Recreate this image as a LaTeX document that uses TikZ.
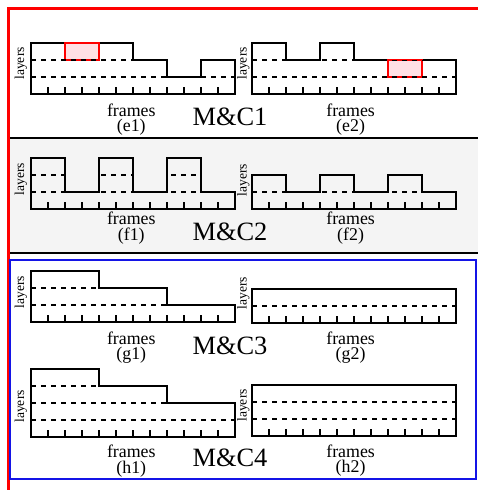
\documentclass[tikz,border=0pt]{standalone}
\usepackage{fontspec}
\setmainfont{Liberation Serif}
\usepackage{tikz}
\definecolor{mcRed}{HTML}{FF0000}
\definecolor{mcRedbg}{HTML}{FFE0E4}
\definecolor{mcBlue}{HTML}{1414E6}
\definecolor{bandbg}{HTML}{F4F4F4}

\begin{document}
\begin{tikzpicture}[x=0.7pt, y=-0.7pt,
  outline/.style={line width=1.7pt, line join=miter},
  layer/.style={line width=1.7pt, dash pattern=on 3.6pt off 3.4pt},
  tick/.style={line width=1.4pt},
  hotbox/.style={fill=mcRedbg, draw=mcRed, line width=1.7pt},
  laylab/.style={rotate=90, font=\fontsize{9.5}{10}\selectfont},
  frlab/.style={align=center, inner sep=0pt, font=\fontsize{12.5}{10.6}\selectfont},
  mclab/.style={font=\fontsize{18.5}{20}\selectfont}]
  \useasboundingbox (0,0) rectangle (478,490);

  % section frames
  \fill[bandbg] (8,138) rectangle (478,253);
  \draw[line width=1.8pt] (8,138) -- (478,138) (8,253) -- (478,253);
  \draw[mcRed, line width=2.1pt] (478,8) -- (8,8) -- (8,490);
  \draw[mcBlue, line width=1.5pt] (10,260) rectangle (476,479);

  % (e1)
  \begin{scope}[shift={(31,94)}, x=11.9pt, y=11.9pt]
    \def\outl{(0,0) |- (6,3) |- (8,2) |- (10,1) |- (12,2) -- (12,0) -- cycle}
    \draw[outline] \outl;
    \draw[hotbox] (2,2) rectangle (4,3);
    \begin{scope}
      \clip \outl;
      \foreach \l in {1,2} \draw[layer] (0,\l) -- (12,\l);
    \end{scope}
    \foreach \i in {1,...,11} \draw[tick] (\i,0) -- (\i,0.4);
    \node[laylab] (lay-e1) at (-0.6,1.8) {layers};
    \node[frlab] (frm-e1) at (5.9,-1.5) {frames\\(e1)};
  \end{scope}

  % (e2)
  \begin{scope}[shift={(252,94)}, x=11.9pt, y=11.9pt]
    \def\outl{(0,0) |- (2,3) |- (4,2) |- (6,3) |- (12,2) -- (12,0) -- cycle}
    \draw[outline] \outl;
    \draw[hotbox] (8,1) rectangle (10,2);
    \begin{scope}
      \clip \outl;
      \foreach \l in {1,2} \draw[layer] (0,\l) -- (12,\l);
    \end{scope}
    \foreach \i in {1,...,11} \draw[tick] (\i,0) -- (\i,0.4);
    \node[laylab] (lay-e2) at (-0.5,1.8) {layers};
    \node[frlab] (frm-e2) at (5.8,-1.5) {frames\\(e2)};
  \end{scope}

  % (f1)
  \begin{scope}[shift={(31,209)}, x=11.9pt, y=11.9pt]
    \def\outl{(0,0) |- (2,3) |- (4,1) |- (6,3) |- (8,1) |- (10,3) |- (12,1) -- (12,0) -- cycle}
    \draw[outline] \outl;
    \begin{scope}
      \clip \outl;
      \foreach \l in {1,2} \draw[layer] (0,\l) -- (12,\l);
    \end{scope}
    \foreach \i in {1,...,11} \draw[tick] (\i,0) -- (\i,0.4);
    \node[laylab] (lay-f1) at (-0.6,1.75) {layers};
    \node[frlab] (frm-f1) at (5.9,-1.12) {frames\\(f1)};
  \end{scope}

  % (f2)
  \begin{scope}[shift={(252,209)}, x=11.9pt, y=11.9pt]
    \def\outl{(0,0) |- (2,2) |- (4,1) |- (6,2) |- (8,1) |- (10,2) |- (12,1) -- (12,0) -- cycle}
    \draw[outline] \outl;
    \begin{scope}
      \clip \outl;
      \draw[layer] (0,1) -- (12,1);
    \end{scope}
    \foreach \i in {1,...,11} \draw[tick] (\i,0) -- (\i,0.4);
    \node[laylab] (lay-f2) at (-0.5,1.7) {layers};
    \node[frlab] (frm-f2) at (5.8,-1.12) {frames\\(f2)};
  \end{scope}

  % (g1)
  \begin{scope}[shift={(31,322)}, x=11.9pt, y=11.9pt]
    \def\outl{(0,0) |- (4,3) |- (8,2) |- (12,1) -- (12,0) -- cycle}
    \draw[outline] \outl;
    \begin{scope}
      \clip \outl;
      \foreach \l in {1,2} \draw[layer] (0,\l) -- (12,\l);
    \end{scope}
    \foreach \i in {1,...,11} \draw[tick] (\i,0) -- (\i,0.4);
    \node[laylab] (lay-g1) at (-0.6,1.75) {layers};
    \node[frlab] (frm-g1) at (5.9,-1.52) {frames\\(g1)};
  \end{scope}

  % (g2)
  \begin{scope}[shift={(252,323)}, x=11.9pt, y=11.9pt]
    \def\outl{(0,0) rectangle (12,2)}
    \draw[outline] \outl;
    \draw[layer] (0,1) -- (12,1);
    \foreach \i in {1,...,11} \draw[tick] (\i,0) -- (\i,0.4);
    \node[laylab] (lay-g2) at (-0.5,1.75) {layers};
    \node[frlab] (frm-g2) at (5.8,-1.46) {frames\\(g2)};
  \end{scope}

  % (h1)
  \begin{scope}[shift={(31,437)}, x=11.9pt, y=11.9pt]
    \def\outl{(0,0) |- (4,4) |- (8,3) |- (12,2) -- (12,0) -- cycle}
    \draw[outline] \outl;
    \begin{scope}
      \clip \outl;
      \foreach \l in {1,2,3} \draw[layer] (0,\l) -- (12,\l);
    \end{scope}
    \foreach \i in {1,...,11} \draw[tick] (\i,0) -- (\i,0.4);
    \node[laylab] (lay-h1) at (-0.6,1.8) {layers};
    \node[frlab] (frm-h1) at (5.9,-1.42) {frames\\(h1)};
  \end{scope}

  % (h2)
  \begin{scope}[shift={(252,436)}, x=11.9pt, y=11.9pt]
    \def\outl{(0,0) rectangle (12,3)}
    \draw[outline] \outl;
    \foreach \l in {1,2} \draw[layer] (0,\l) -- (12,\l);
    \foreach \i in {1,...,11} \draw[tick] (\i,0) -- (\i,0.4);
    \node[laylab] (lay-h2) at (-0.5,1.8) {layers};
    \node[frlab] (frm-h2) at (5.8,-1.46) {frames\\(h2)};
  \end{scope}

  \node[mclab] (mc1) at (230,117) {M\&C1};
  \node[mclab] (mc2) at (230,232) {M\&C2};
  \node[mclab] (mc3) at (230,346) {M\&C3};
  \node[mclab] (mc4) at (230,458) {M\&C4};
\end{tikzpicture}
\end{document}
